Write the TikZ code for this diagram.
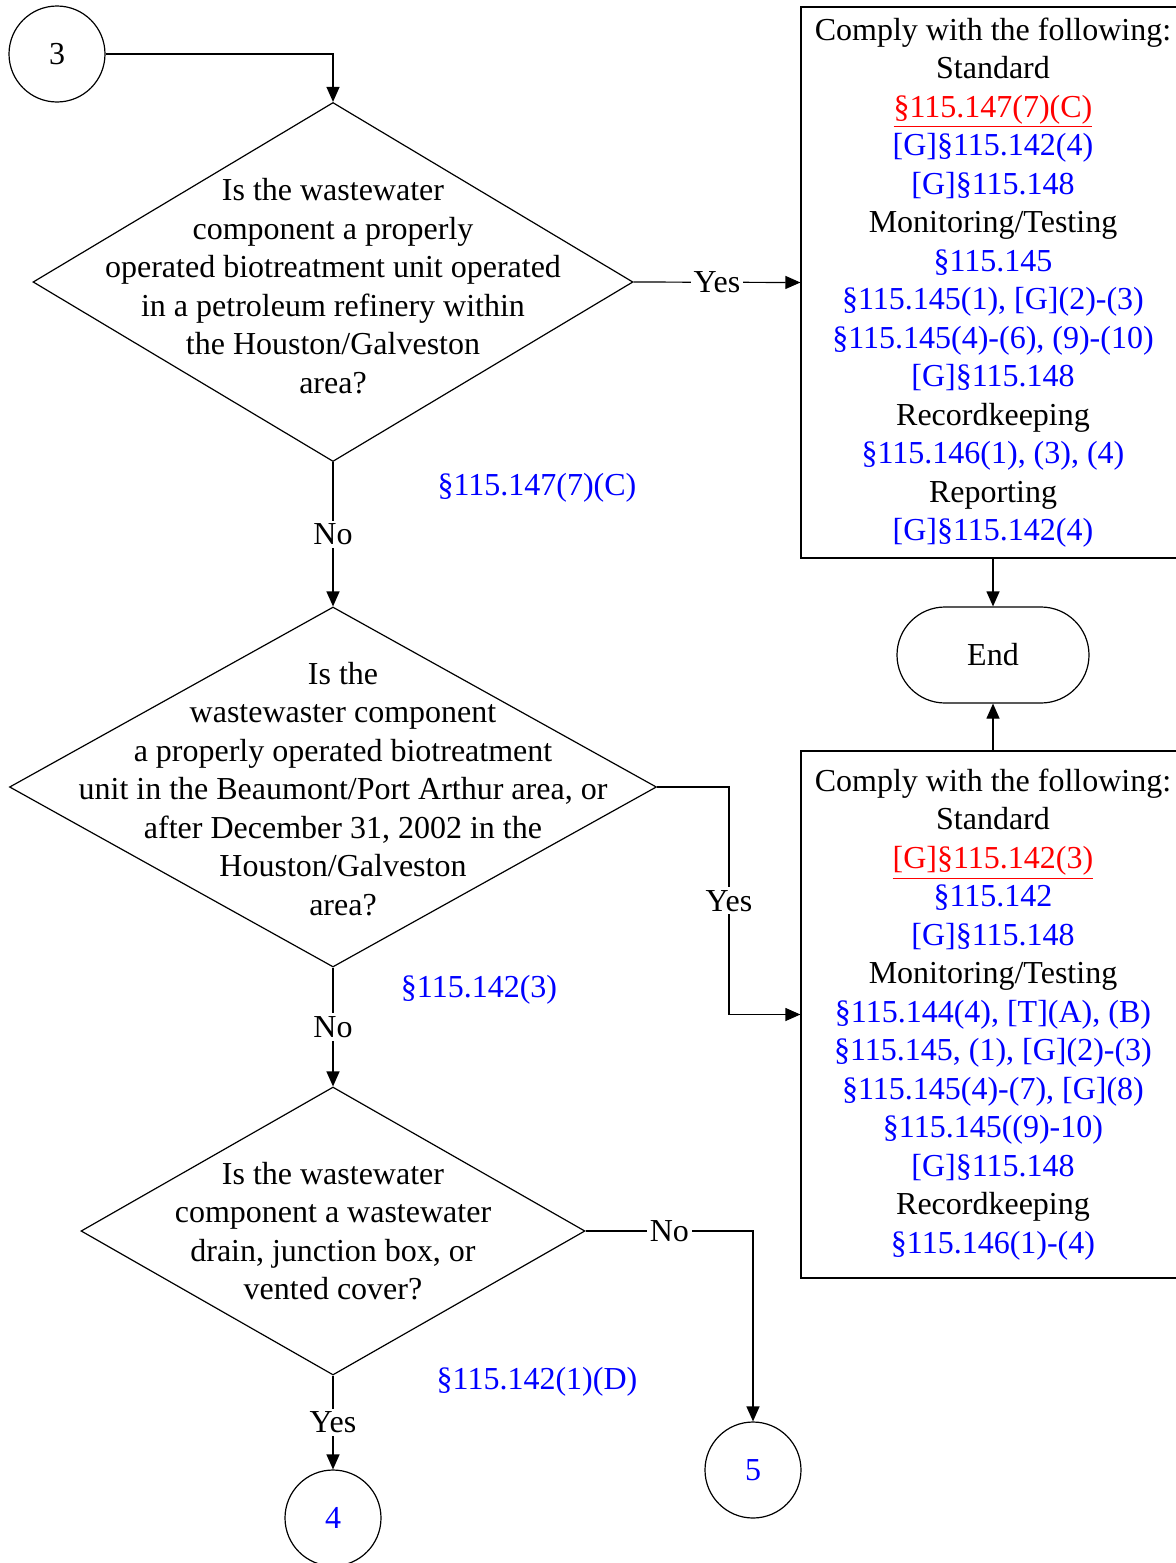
\documentclass[tikz,border=0pt]{standalone}
\usepackage{fontspec}
\setmainfont{Liberation Serif}
\usepackage{tikz}
\usetikzlibrary{arrows.meta}
\usetikzlibrary{shapes.geometric}
\usetikzlibrary{positioning}
\newcommand{\rul}[1]{\textcolor{blue}{#1}}
\newcommand{\keyrul}[1]{\textcolor{red}{\underline{#1}}}

\begin{document}
\begin{tikzpicture}
	[x=0.5pt,y=-0.5pt,
	every node/.style={font=\fontsize{16}{19.25}\selectfont},
	flow/.style={draw,line width=0.6pt,-{Triangle[length=7.5pt,width=6.5pt]}},
	connector/.style={draw,circle,line width=0.6pt,minimum size=48pt,inner sep=0pt},
	decision/.style={draw,diamond,line width=0.6pt,inner sep=0pt},
	comply/.style={draw,line width=0.6pt,align=center,minimum width=192pt,inner sep=0pt},
	terminal/.style={draw,rounded corners=24pt,line width=0.6pt,minimum width=96pt,minimum height=48pt},
	lbl/.style={fill=white,inner sep=1.5pt},
	ref/.style={text=blue}]
	\useasboundingbox (0,0) rectangle (1176,1563);
	% off-page connectors and end
	\node[connector] (c3) at (57,54) {3};
	\node[connector,text=blue] (c4) at (333,1518) {4};
	\node[connector,text=blue] (c5) at (753,1470) {5};
	\node[terminal] (end) at (993,655) {End};
	% questions
	\node[decision,minimum width=300pt,minimum height=179.5pt] (q1) at (333,282) {};
	\node[align=center] (q1txt) at (333,286) {Is the wastewater\\component a properly\\operated biotreatment unit operated\\in a petroleum refinery within\\the Houston/Galveston\\area?};
	\node[decision,minimum width=323.5pt,minimum height=180pt] (q2) at (333,787) {};
	\node[align=center] (q2txt) at (343,789) {Is the\\wastewaster component\\a properly operated biotreatment\\unit in the Beaumont/Port Arthur area, or\\after December 31, 2002 in the\\Houston/Galveston\\area?};
	\node[decision,minimum width=252pt,minimum height=144pt] (q3) at (333,1231) {};
	\node[align=center] (q3txt) at (333,1231) {Is the wastewater\\component a wastewater\\drain, junction box, or\\vented cover?};
	\node[ref] (q1ref) at (537,488) {§115.147(7)(C)};
	\node[ref] (q2ref) at (479,990) {§115.142(3)};
	\node[ref] (q3ref) at (537,1382) {§115.142(1)(D)};
	% requirements
	\node[comply,minimum height=275.5pt] (box1) at (993,282.5) {Comply with the following:\\Standard\\\keyrul{§115.147(7)(C)}\\\rul{[G]§115.142(4)}\\\rul{[G]§115.148}\\Monitoring/Testing\\\rul{§115.145}\\\rul{§115.145(1), [G](2)-(3)}\\\rul{§115.145(4)-(6), (9)-(10)}\\\rul{[G]§115.148}\\Recordkeeping\\\rul{§115.146(1), (3), (4)}\\Reporting\\\rul{[G]§115.142(4)}};
	\node[comply,minimum height=263.5pt] (box2) at (993,1014.5) {Comply with the following:\\Standard\\\keyrul{[G]§115.142(3)}\\\rul{§115.142}\\\rul{[G]§115.148}\\Monitoring/Testing\\\rul{§115.144(4), [T](A), (B)}\\\rul{§115.145, (1), [G](2)-(3)}\\\rul{§115.145(4)-(7), [G](8)}\\\rul{§115.145((9)-10)}\\\rul{[G]§115.148}\\Recordkeeping\\\rul{§115.146(1)-(4)}};
	\coordinate (yturn) at (729,787);
	% connectors
	\draw[flow] (c3.east) -| (q1.north);
	\draw[flow] (q1.east) -- node[lbl] {Yes} (box1.west);
	\draw[flow] (q1.south) -- node[lbl] {No} (q2.north);
	\draw[flow] (q2.east) -- (yturn) |- node[lbl,pos=0.25] {Yes} (box2.west);
	\draw[flow] (q2.south) -- node[lbl] {No} (q3.north);
	\draw[flow] (q3.east) -| node[lbl,pos=0.25] {No} (c5.north);
	\draw[flow] (q3.south) -- node[lbl] {Yes} (c4.north);
	\draw[flow] (box1.south) -- (end.north);
	\draw[flow] (box2.north) -- (end.south);
\end{tikzpicture}
\end{document}
